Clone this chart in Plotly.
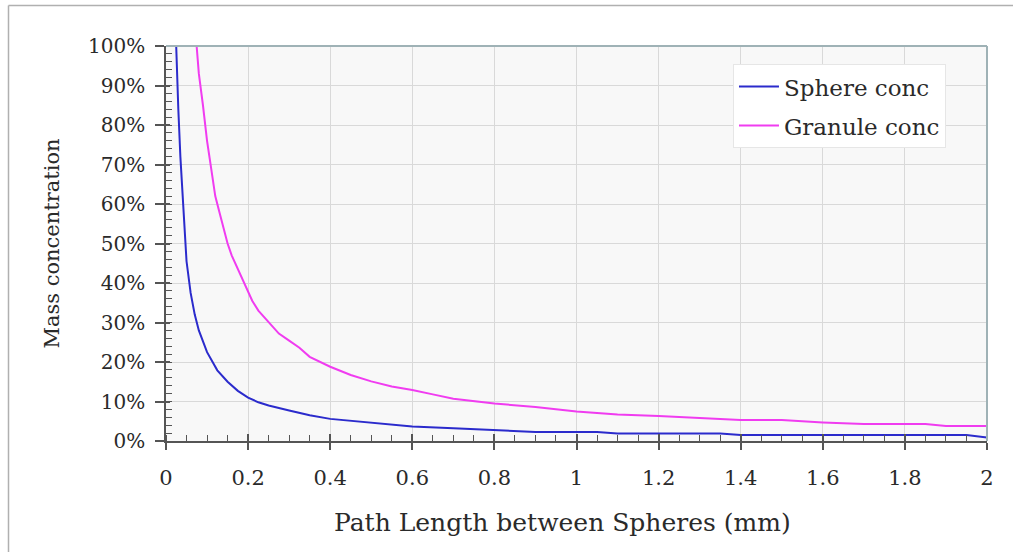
import plotly.graph_objects as go

sphere_x = [0.02, 0.025, 0.03, 0.035, 0.04, 0.045, 0.05, 0.06, 0.07, 0.08, 0.09, 0.1,
            0.125, 0.15, 0.175, 0.2, 0.225, 0.25, 0.3, 0.35, 0.4, 0.45, 0.5, 0.55, 0.6,
            0.7, 0.8, 0.9, 1.0, 1.05, 1.1, 1.35, 1.4, 1.95, 2.0]
sphere_y = [1.15, 0.97, 0.84, 0.72, 0.62, 0.53, 0.455, 0.375, 0.32, 0.28, 0.25, 0.225,
            0.179, 0.15, 0.127, 0.11, 0.098, 0.09, 0.077, 0.065, 0.056, 0.051, 0.046, 0.041, 0.037,
            0.032, 0.027, 0.023, 0.023, 0.023, 0.019, 0.019, 0.015, 0.015, 0.009]

granule_x = [0.07, 0.08, 0.09, 0.1, 0.11, 0.12, 0.13, 0.14, 0.15, 0.16, 0.175, 0.2,
             0.21, 0.225, 0.25, 0.275, 0.3, 0.325, 0.35, 0.4, 0.45, 0.5, 0.55, 0.6,
             0.65, 0.7, 0.8, 0.9, 1.0, 1.1, 1.2, 1.3, 1.4, 1.5, 1.6, 1.7, 1.85, 1.9, 2.0]
granule_y = [1.06, 0.93, 0.85, 0.76, 0.69, 0.62, 0.58, 0.54, 0.50, 0.47, 0.435, 0.375,
             0.355, 0.33, 0.30, 0.272, 0.254, 0.236, 0.213, 0.188, 0.167, 0.151, 0.138, 0.129,
             0.118, 0.107, 0.095, 0.086, 0.075, 0.067, 0.063, 0.058, 0.053, 0.053, 0.047, 0.043, 0.043, 0.038, 0.038]

x_ticks = [0, 0.2, 0.4, 0.6, 0.8, 1, 1.2, 1.4, 1.6, 1.8, 2]
x_labels = ["0", "0.2", "0.4", "0.6", "0.8", "1", "1.2", "1.4", "1.6", "1.8", "2"]
y_ticks = [0, 0.1, 0.2, 0.3, 0.4, 0.5, 0.6, 0.7, 0.8, 0.9, 1.0]
y_labels = ["0%", "10%", "20%", "30%", "40%", "50%", "60%", "70%", "80%", "90%", "100%"]
x_title = "Path Length between Spheres (mm)"
y_title = "Mass concentration"

FONT = "DejaVu Serif"
AX = "#555555"
TXT = "#2a2a2a"

fig = go.Figure()
fig.add_trace(go.Scatter(x=sphere_x, y=sphere_y, mode="lines", name="Sphere conc",
                         line=dict(color="#2b2bcc", width=2), legendgroup="a"))
fig.add_trace(go.Scatter(x=granule_x, y=granule_y, mode="lines", name="Granule conc",
                         line=dict(color="#f03cf0", width=2), legendgroup="b"))
# invisible trace on overlay axes for inward major ticks
fig.add_trace(go.Scatter(x=[0, 2], y=[0, 1], xaxis="x2", yaxis="y2", mode="lines",
                         line=dict(width=0), showlegend=False, hoverinfo="skip"))

fig.update_layout(
    width=1013, height=552,
    margin=dict(l=166, r=26, t=46, b=111),
    paper_bgcolor="white", plot_bgcolor="#f8f8f8",
    font=dict(family=FONT, color=TXT),
    showlegend=True,
    legend=dict(x=0.6906, y=0.954, xanchor="left", yanchor="top",
                bgcolor="white", bordercolor="#e6e6e6", borderwidth=1,
                font=dict(family=FONT, size=23, color=TXT),
                tracegroupgap=6, itemwidth=40,
                traceorder="grouped"),
    xaxis=dict(range=[0, 2], tickvals=x_ticks, ticktext=x_labels,
               showgrid=True, gridcolor="#d9d9d9", gridwidth=1, zeroline=False,
               showline=True, linecolor=AX, linewidth=1.5,
               ticks="outside", ticklen=7, tickcolor=AX, tickwidth=1.5,
               tickfont=dict(family=FONT, size=21, color=TXT),
               ticklabelstandoff=10,
               minor=dict(dtick=0.05, tick0=0, ticks="inside", ticklen=6, tickcolor=AX, tickwidth=1, showgrid=False)),
    yaxis=dict(range=[0, 1], tickvals=y_ticks, ticktext=y_labels,
               showgrid=True, gridcolor="#d9d9d9", gridwidth=1, zeroline=False,
               showline=True, linecolor=AX, linewidth=1.5,
               ticks="outside", ticklen=9, tickcolor=AX, tickwidth=1.5,
               tickfont=dict(family=FONT, size=20, color=TXT),
               ticklabelstandoff=6,
               minor=dict(dtick=0.02, tick0=0, ticks="inside", ticklen=6, tickcolor=AX, tickwidth=1, showgrid=False),
               title=dict(text=y_title, font=dict(family=FONT, size=21, color=TXT),
                          standoff=23)),
    xaxis2=dict(overlaying="x", matches="x", range=[0, 2], tickvals=x_ticks, ticks="inside",
                ticklen=7, tickcolor=AX, tickwidth=1.5, showticklabels=False, showgrid=False,
                zeroline=False, showline=False, side="bottom"),
    yaxis2=dict(overlaying="y", matches="y", range=[0, 1], tickvals=y_ticks, ticks="inside",
                ticklen=4, tickcolor=AX, tickwidth=1.5, showticklabels=False, showgrid=False,
                zeroline=False, showline=False, side="left"),
    annotations=[
        dict(text=x_title, xref="paper", yref="paper", x=(562 - 166) / 821, y=(441 - 522) / 395,
             xanchor="center", yanchor="middle", showarrow=False,
             font=dict(family=FONT, size=25, color=TXT)),
    ],
    shapes=[
        dict(type="line", xref="paper", yref="paper", x0=0, x1=1, y0=1, y1=1,
             line=dict(color="#9fb2b6", width=2), layer="above"),
        dict(type="line", xref="paper", yref="paper", x0=1, x1=1, y0=0, y1=1,
             line=dict(color="#9fb2b6", width=2), layer="above"),
        dict(type="line", xref="paper", yref="paper", x0=(8.5 - 166) / 821, x1=1.05,
             y0=(441 - 5.5) / 395, y1=(441 - 5.5) / 395, line=dict(color="#b0b0b0", width=1.5)),
        dict(type="line", xref="paper", yref="paper", x0=(8.5 - 166) / 821, x1=(8.5 - 166) / 821,
             y0=(441 - 5.5) / 395, y1=-0.3, line=dict(color="#b0b0b0", width=1.5)),
    ],
)

fig.write_html("out.html")
